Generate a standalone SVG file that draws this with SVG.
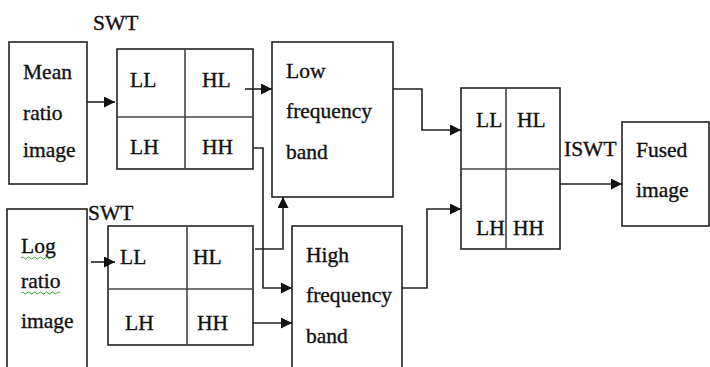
<svg xmlns="http://www.w3.org/2000/svg" width="710" height="367" viewBox="0 0 710 367">
<style>
.box{fill:#fff;stroke:#222;stroke-width:1.6}
.div{stroke:#444;stroke-width:1.6}
.t{font-family:"Liberation Serif",serif;font-size:21.5px;fill:#111;stroke:#111;stroke-width:0.35}
.c{fill:none;stroke:#222;stroke-width:1.6}
.sq{fill:none;stroke:#3a3;stroke-width:1}
</style>
<defs>
<marker id="ah" viewBox="0 0 10 10" refX="10" refY="5" markerWidth="11" markerHeight="11" markerUnits="userSpaceOnUse" orient="auto">
<path d="M0,0 L10,5 L0,10 Z" fill="#111"/>
</marker>
</defs>
<rect width="710" height="367" fill="#fff"/>
<g id="mean">
<rect class="box" x="9" y="42" width="78" height="142"/>
<text class="t" x="23" y="79">Mean</text>
<text class="t" x="23" y="120">ratio</text>
<text class="t" x="23" y="157">image</text>
</g>
<g id="swt1">
<text class="t" x="93" y="30">SWT</text>
<rect class="box" x="117" y="49" width="136" height="120"/>
<line class="div" x1="185" y1="49" x2="185" y2="169"/>
<line class="div" x1="117" y1="117" x2="253" y2="117"/>
<text class="t" x="130" y="87">LL</text>
<text class="t" x="202" y="87">HL</text>
<text class="t" x="130" y="154">LH</text>
<text class="t" x="202" y="154">HH</text>
</g>
<g id="log">
<rect class="box" x="7" y="209" width="80" height="170"/>
<text class="t" x="21" y="253">Log</text>
<text class="t" x="21" y="288">ratio</text>
<text class="t" x="21" y="328">image</text>
<path class="sq" d="M21,258 q1.5,-2 3,0 t3,0 t3,0 t3,0 t3,0 t3,0 t3,0 t3,0 t3,0 t3,0"/>
<path class="sq" d="M21,293 q1.5,-2 3,0 t3,0 t3,0 t3,0 t3,0 t3,0 t3,0 t3,0 t3,0 t3,0 t3,0 t3,0 t3,0"/>
</g>
<g id="swt2">
<text class="t" x="88" y="220">SWT</text>
<rect class="box" x="108" y="226" width="145" height="119"/>
<line class="div" x1="187" y1="226" x2="187" y2="345"/>
<line class="div" x1="108" y1="289" x2="253" y2="289"/>
<text class="t" x="120" y="264">LL</text>
<text class="t" x="193" y="264">HL</text>
<text class="t" x="125" y="330">LH</text>
<text class="t" x="197" y="330">HH</text>
</g>
<g id="low">
<rect class="box" x="272" y="42" width="121" height="155"/>
<text class="t" x="286" y="78">Low</text>
<text class="t" x="286" y="118">frequency</text>
<text class="t" x="286" y="159">band</text>
</g>
<g id="high">
<rect class="box" x="292" y="226" width="110" height="150"/>
<text class="t" x="306" y="262">High</text>
<text class="t" x="306" y="302">frequency</text>
<text class="t" x="306" y="343">band</text>
</g>
<g id="iswt">
<rect class="box" x="461" y="88" width="99" height="161"/>
<line class="div" x1="506" y1="88" x2="506" y2="249"/>
<line class="div" x1="461" y1="169" x2="560" y2="169"/>
<text class="t" x="476" y="127">LL</text>
<text class="t" x="517" y="127">HL</text>
<text class="t" x="476" y="235">LH</text>
<text class="t" x="513" y="235">HH</text>
<text class="t" x="564" y="156">ISWT</text>
</g>
<g id="fused">
<rect class="box" x="622" y="122" width="87" height="104"/>
<text class="t" x="636" y="157">Fused</text>
<text class="t" x="636" y="197">image</text>
</g>
<g id="connectors">
<line class="c" x1="87" y1="102" x2="115" y2="102" marker-end="url(#ah)"/>
<line class="c" x1="91" y1="262" x2="115" y2="262" marker-end="url(#ah)"/>
<line class="c" x1="245" y1="89" x2="272" y2="89" marker-end="url(#ah)"/>
<polyline class="c" points="253,148 263,148 263,288 292,288" marker-end="url(#ah)"/>
<polyline class="c" points="255,249 283,249 283,197" marker-end="url(#ah)"/>
<line class="c" x1="253" y1="323" x2="292" y2="323" marker-end="url(#ah)"/>
<polyline class="c" points="393,89 422,89 422,130 461,130" marker-end="url(#ah)"/>
<polyline class="c" points="402,288 427,288 427,209 461,209" marker-end="url(#ah)"/>
<line class="c" x1="560" y1="184" x2="622" y2="184" marker-end="url(#ah)"/>
</g>
</svg>
